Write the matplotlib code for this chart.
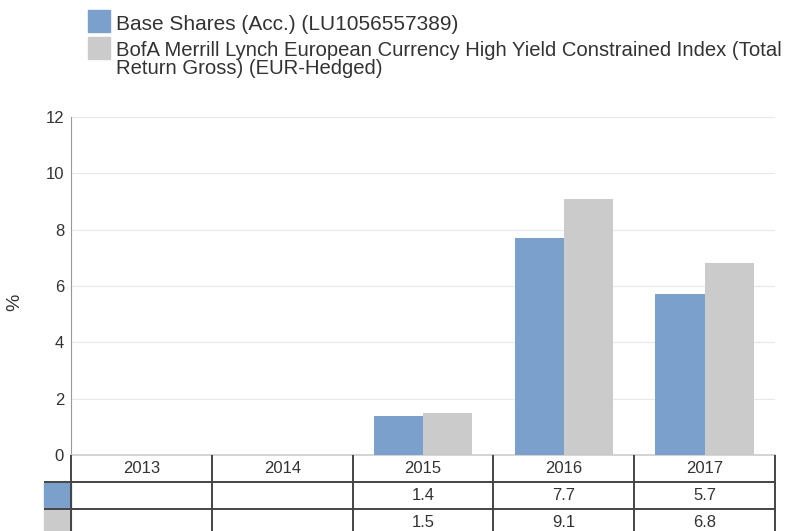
import matplotlib
matplotlib.use("Agg")
import matplotlib.pyplot as plt
from matplotlib.patches import Rectangle

years = ["2013", "2014", "2015", "2016", "2017"]
fund = [None, None, 1.4, 7.7, 5.7]
index = [None, None, 1.5, 9.1, 6.8]
fund_label = "Base Shares (Acc.) (LU1056557389)"
index_label = ("BofA Merrill Lynch European Currency High Yield Constrained Index (Total\n"
               "Return Gross) (EUR-Hedged)")
yticks = [0, 2, 4, 6, 8, 10, 12]

BLUE = "#7aa0cb"
GRAY = "#cbcbcb"
TXT = "#333333"
FONT = "Liberation Sans"

W, H = 798, 531
fig = plt.figure(figsize=(W / 100, H / 100), dpi=100)

def fx(px):
    return px / W

def fy(py):
    return 1 - py / H

L, R = 71, 775
TOP, BOT = 117, 455
ax = fig.add_axes([fx(L), fy(BOT), fx(R - L), (BOT - TOP) / H])
n = len(years)
xs = list(range(n))
bw = 0.35
for i in xs:
    if fund[i] is not None:
        ax.bar(i - bw / 2, fund[i], width=bw, color=BLUE, zorder=3)
    if index[i] is not None:
        ax.bar(i + bw / 2, index[i], width=bw, color=GRAY, zorder=3)
ax.set_xlim(-0.5, n - 0.5)
ax.set_ylim(0, 12)
ax.set_yticks(yticks)
ax.set_yticklabels([str(t) for t in yticks], fontfamily=FONT, fontsize=12, color=TXT)
ax.set_xticks([])
ax.tick_params(axis="y", length=0, pad=5)
ax.grid(axis="y", color="#e8e8e8", linewidth=0.8, zorder=0)
for s in ["top", "right"]:
    ax.spines[s].set_visible(False)
ax.spines["left"].set_color("#999999")
ax.spines["bottom"].set_color("#cccccc")
ax.spines["bottom"].set_linewidth(1.2)
fig.text(fx(15), fy(302), "%", rotation=90, ha="center", va="center",
         fontfamily=FONT, fontsize=14, color=TXT)

# data table
rowh = 27
tab = fig.add_axes([fx(L), fy(BOT + 3 * rowh), fx(R - L), 3 * rowh / H])
tab.set_xlim(-0.5, n - 0.5)
tab.set_ylim(3, 0)
tab.axis("off")
lc = "#444444"
lw = 1.4
for i in range(n + 1):
    tab.plot([i - 0.5, i - 0.5], [0, 3], color=lc, lw=lw, clip_on=False, solid_capstyle="butt")
sw = 27 / ((R - L) / n)
for r in (1, 2):
    tab.plot([-0.5 - sw, n - 0.5], [r, r], color=lc, lw=lw, clip_on=False, solid_capstyle="butt")
tab.add_patch(Rectangle((-0.5 - sw, 1.03), sw, 0.94, color=BLUE, clip_on=False))
tab.add_patch(Rectangle((-0.5 - sw, 2.03), sw, 0.94, color=GRAY, clip_on=False))
for i, y in enumerate(years):
    tab.text(i, 0.5, y, ha="center", va="center", fontfamily=FONT, fontsize=12, color=TXT)
    if fund[i] is not None:
        tab.text(i, 1.5, f"{fund[i]:.1f}", ha="center", va="center", fontfamily=FONT, fontsize=12, color=TXT)
    if index[i] is not None:
        tab.text(i, 2.5, f"{index[i]:.1f}", ha="center", va="center", fontfamily=FONT, fontsize=12, color=TXT)

# legend
fig.patches.append(Rectangle((fx(88), fy(32)), fx(22), 22 / H, color=BLUE, transform=fig.transFigure))
fig.patches.append(Rectangle((fx(88), fy(59)), fx(22), 22 / H, color=GRAY, transform=fig.transFigure))
fig.text(fx(116), fy(29.5), fund_label, fontfamily=FONT, fontsize=15, color=TXT, va="baseline")
fig.text(fx(116), fy(74), index_label, fontfamily=FONT, fontsize=14.6, color=TXT,
         va="baseline", linespacing=0.95)

fig.savefig("out.png", dpi=100)
